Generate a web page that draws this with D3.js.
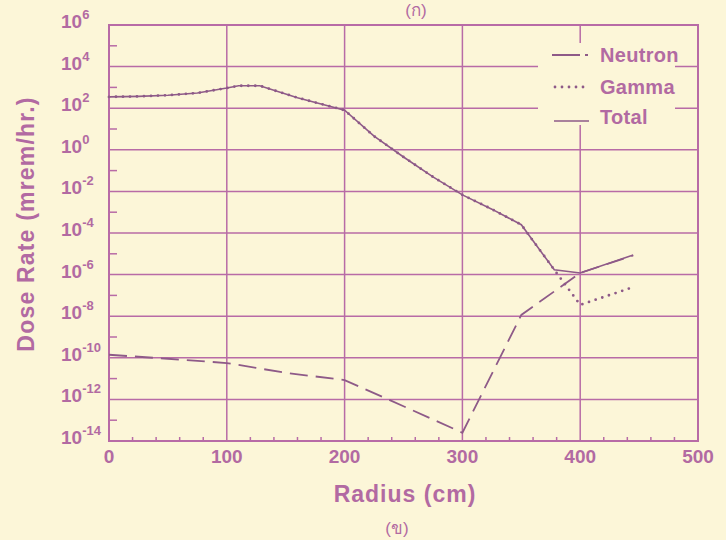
<!DOCTYPE html>
<html>
<head>
<meta charset="utf-8">
<script src="https://cdn.jsdelivr.net/npm/d3@7"></script>
<style>
  body { margin: 0; background: #fcf6d8; }
  svg { display: block; }
  text { font-family: "Liberation Sans", Arial, sans-serif; fill: #b26aa2; }
</style>
</head>
<body>
<svg id="chart" width="726" height="540"></svg>
<script>
// radius (cm) and dose rate (mrem/hr)
const totalRadius = [0, 25, 50, 75, 100, 110, 128, 160, 200, 225, 250, 275, 300, 325, 350, 378, 400, 445];
const totalDose = [3.5e2, 3.7e2, 4.2e2, 5.4e2, 9.3e2, 1.2e3, 1.2e3, 3.2e2, 8e1, 4.5, 4.5e-1, 5e-2, 6.8e-3, 1.4e-3, 2.5e-4, 1.7e-6, 1.2e-6, 8.7e-6];

const gammaRadius = [0, 25, 50, 75, 100, 110, 128, 160, 200, 225, 250, 275, 300, 325, 350, 378, 400, 445];
const gammaDose = [3.5e2, 3.7e2, 4.2e2, 5.4e2, 9.3e2, 1.2e3, 1.2e3, 3.2e2, 8e1, 4.5, 4.5e-1, 5e-2, 6.8e-3, 1.4e-3, 2.5e-4, 1.7e-6, 3.5e-8, 2.5e-7];

const neutronRadius = [0, 50, 100, 150, 200, 250, 300, 350, 400, 445];
const neutronDose = [1.4e-10, 9e-11, 5.6e-11, 1.9e-11, 8.5e-12, 4.7e-13, 2.5e-14, 1.15e-8, 1.2e-6, 8.3e-6];

const xTicks = [0, 100, 200, 300, 400, 500];
const yExponents = [-14, -12, -10, -8, -6, -4, -2, 0, 2, 4, 6];
const legendNames = ['Neutron', 'Gamma', 'Total'];

const lineColor = '#8e5a88';
const gridColor = '#b86ba6';

const svg = d3.select('#chart');

const x = d3.scaleLinear().domain([0, 500]).range([109, 698]);
const y = d3.scaleLog().domain([1e-14, 1e6]).range([441, 25]);

// grid
const grid = svg.append('g').attr('stroke', gridColor).attr('stroke-width', 1.5);
grid.selectAll('.vg').data(xTicks.slice(1, -1)).join('line')
  .attr('x1', d => x(d)).attr('x2', d => x(d))
  .attr('y1', y.range()[0]).attr('y2', y.range()[1]);
grid.selectAll('.hg').data(yExponents.slice(1, -1)).join('line')
  .attr('x1', x.range()[0]).attr('x2', x.range()[1])
  .attr('y1', d => y(Math.pow(10, d))).attr('y2', d => y(Math.pow(10, d)));

// minor ticks, pointing inward
const oddExp = d3.range(-13, 6, 2);
grid.selectAll('.my').data(oddExp).join('line')
  .attr('x1', x(0)).attr('x2', x(0) + 8)
  .attr('y1', d => y(Math.pow(10, d))).attr('y2', d => y(Math.pow(10, d)));
const minorX = d3.range(20, 500, 20).filter(d => d % 100 !== 0);
grid.selectAll('.mx').data(minorX).join('line')
  .attr('x1', d => x(d)).attr('x2', d => x(d))
  .attr('y1', y(1e-14)).attr('y2', y(1e-14) - 4);

// frame
svg.append('rect')
  .attr('x', x(0)).attr('y', y(1e6))
  .attr('width', x(500) - x(0)).attr('height', y(1e-14) - y(1e6))
  .attr('fill', 'none').attr('stroke', gridColor).attr('stroke-width', 2);

// legend box hides the grid behind it
svg.append('rect')
  .attr('x', 538).attr('y', 43).attr('width', 137).attr('height', 82)
  .attr('fill', '#fcf6d8');

// series
const line = (rs, vs) => d3.line().x((d, i) => x(rs[i])).y(d => y(d))(vs);

svg.append('path').attr('d', line(neutronRadius, neutronDose))
  .attr('fill', 'none').attr('stroke', lineColor).attr('stroke-width', 1.8)
  .attr('stroke-dasharray', '18,8');
svg.append('path').attr('d', line(gammaRadius, gammaDose))
  .attr('fill', 'none').attr('stroke', lineColor).attr('stroke-width', 2.8)
  .attr('stroke-linecap', 'round').attr('stroke-dasharray', '0,7');
svg.append('path').attr('d', line(totalRadius, totalDose))
  .attr('fill', 'none').attr('stroke', lineColor).attr('stroke-width', 1.6);

// axis labels
svg.selectAll('.xl').data(xTicks).join('text')
  .attr('x', d => x(d)).attr('y', y(1e-14) + 22)
  .attr('text-anchor', 'middle')
  .attr('font-size', 19).attr('font-weight', 'bold')
  .text(d => d);

const yl = svg.selectAll('.yl').data(yExponents).join('text')
  .attr('x', 61).attr('y', d => y(Math.pow(10, d)) + 3)
  .attr('font-size', 19).attr('font-weight', 'bold');
yl.append('tspan').text('10');
yl.append('tspan').attr('dy', -9).attr('font-size', 13).text(d => d < 0 ? '-' + (-d) : d);

svg.append('text')
  .attr('x', 405).attr('y', 502)
  .attr('text-anchor', 'middle')
  .attr('font-size', 23).attr('font-weight', 'bold').attr('letter-spacing', 1)
  .text('Radius (cm)');

svg.append('text')
  .attr('transform', 'translate(34,224) rotate(-90)')
  .attr('text-anchor', 'middle')
  .attr('font-size', 23).attr('font-weight', 'bold').attr('letter-spacing', 1.2)
  .text('Dose Rate (mrem/hr.)');

// panel captions
svg.append('text').attr('x', 416).attr('y', 16).attr('text-anchor', 'middle')
  .attr('font-size', 17).attr('font-family', 'serif').text('(ก)');
svg.append('text').attr('x', 397).attr('y', 534).attr('text-anchor', 'middle')
  .attr('font-size', 17).attr('font-family', 'serif').text('(ข)');

// legend
const legendY = [55, 87, 121];
const lg = svg.append('g');
lg.append('line').attr('x1', 552).attr('x2', 590).attr('y1', legendY[0]).attr('y2', legendY[0])
  .attr('stroke', lineColor).attr('stroke-width', 1.8).attr('stroke-dasharray', '28,5,3,100');
lg.append('line').attr('x1', 555).attr('x2', 589).attr('y1', legendY[1]).attr('y2', legendY[1])
  .attr('stroke', lineColor).attr('stroke-width', 2.8)
  .attr('stroke-linecap', 'round').attr('stroke-dasharray', '0,7');
lg.append('line').attr('x1', 554).attr('x2', 589).attr('y1', legendY[2]).attr('y2', legendY[2])
  .attr('stroke', lineColor).attr('stroke-width', 1.6);
lg.selectAll('text').data(legendNames).join('text')
  .attr('x', 600).attr('y', (d, i) => [62, 94, 124][i])
  .attr('font-size', 20).attr('font-weight', 'bold').attr('letter-spacing', 0.3)
  .text(d => d);
</script>
</body>
</html>
